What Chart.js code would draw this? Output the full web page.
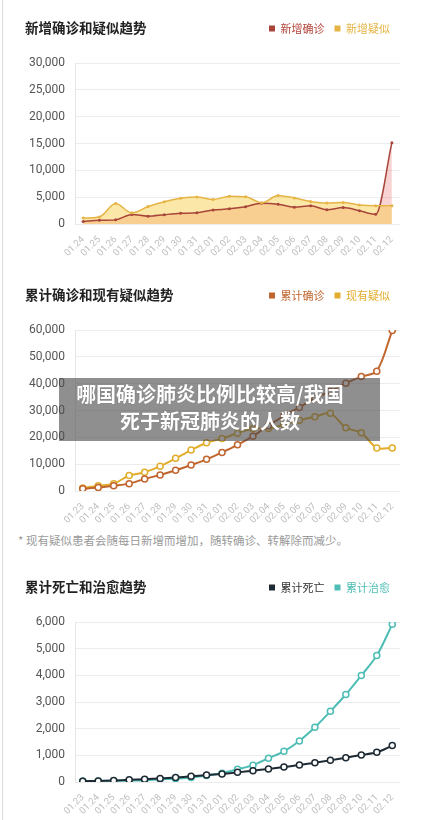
<!DOCTYPE html>
<html lang="zh-CN">
<head>
<meta charset="utf-8">
<title>疫情趋势</title>
<script src="https://cdn.jsdelivr.net/npm/chart.js@4.4.1/dist/chart.umd.min.js"></script>
<style>
  html, body { margin: 0; padding: 0; background: #fff; }
  body { width: 440px; height: 820px; position: relative; overflow: hidden; font-family: Roboto, "Noto Sans CJK SC", sans-serif; }
  .edge { position: absolute; left: 2px; top: 0; bottom: 0; width: 1px; background: #dcdcdc; }
  .block { position: absolute; left: 0; width: 440px; height: 262px; }
  .block h2 { position: absolute; left: 25px; top: 18px; margin: 0; font-size: 13.5px; line-height: 18px; font-weight: 700; color: #222; font-family: "Noto Sans CJK SC", sans-serif; }
  .note { position: absolute; left: 18px; top: 532px; font-size: 11.5px; line-height: 16px; color: #9a9a9a; font-family: "Noto Sans CJK SC", sans-serif; }
  .banner { position: absolute; left: 59px; top: 378px; width: 321px; height: 63px; box-sizing: border-box; padding: 3px 19px 0 0;
    background: rgba(75, 75, 75, 0.62); color: #fff; text-align: center; font: 700 20px/26.5px "Noto Sans CJK SC", sans-serif;
    text-shadow: 0 0 1px rgba(0, 0, 0, 0.3); }
</style>
</head>
<body>
<div class="edge"></div>

<div class="block" style="top:0">
  <h2>新增确诊和疑似趋势</h2>
  <canvas id="newChart"></canvas>
</div>

<div class="block" style="top:267px">
  <h2>累计确诊和现有疑似趋势</h2>
  <canvas id="totalChart"></canvas>
</div>

<div class="note">* 现有疑似患者会随每日新增而增加，随转确诊、转解除而减少。</div>

<div class="block" style="top:559px; height:261px">
  <h2>累计死亡和治愈趋势</h2>
  <canvas id="outcomeChart"></canvas>
</div>

<div class="banner">哪国确诊肺炎比例比较高/我国<br>死于新冠肺炎的人数</div>

<script>
const newDays = ['01.24', '01.25', '01.26', '01.27', '01.28', '01.29', '01.30', '01.31', '02.01', '02.02',
  '02.03', '02.04', '02.05', '02.06', '02.07', '02.08', '02.09', '02.10', '02.11', '02.12']
const newConfirmed = [444, 688, 769, 1771, 1459, 1737, 1982, 2102, 2590, 2829,
  3235, 3887, 3694, 3143, 3399, 2656, 3062, 2478, 1800, 15152]
const newSuspected = [1118, 1309, 3806, 2077, 3248, 4148, 4812, 5019, 4562, 5173,
  5072, 3971, 5328, 4833, 4214, 3916, 4008, 3536, 3400, 3400]

const totalDays = ['01.23', '01.24', '01.25', '01.26', '01.27', '01.28', '01.29', '01.30', '01.31', '02.01',
  '02.02', '02.03', '02.04', '02.05', '02.06', '02.07', '02.08', '02.09', '02.10', '02.11', '02.12']
const totalConfirmed = [830, 1287, 1975, 2744, 4515, 5974, 7711, 9692, 11791, 14380,
  17205, 20438, 24324, 28018, 31161, 34546, 37198, 40171, 42638, 44653, 59804]
const currentSuspected = [1072, 1965, 2684, 5794, 6973, 9239, 12167, 15238, 17988, 19544,
  21558, 23214, 23260, 24702, 26359, 27657, 28942, 23589, 21675, 16067, 16067]
const totalDeaths = [25, 41, 56, 80, 106, 132, 170, 213, 259, 304,
  361, 425, 490, 563, 636, 722, 811, 908, 1016, 1113, 1367]
const totalCured = [34, 38, 49, 51, 60, 103, 124, 171, 243, 328,
  475, 632, 892, 1153, 1540, 2050, 2649, 3281, 3996, 4740, 5911]

Chart.defaults.font.family = 'Roboto, "Noto Sans CJK SC", sans-serif'

// push the plot down a bit under the legend row
const legendGap = {
  id: 'legendGap',
  beforeInit(chart) {
    const fit = chart.legend.fit
    chart.legend.fit = function () {
      fit.bind(chart.legend)()
      this.height += 19
    }
  }
}

function lineChart(id, labels, datasets, legendText, yMax, yStep) {
  return new Chart(document.getElementById(id), {
    type: 'line',
    data: { labels, datasets },
    options: {
      responsive: true,
      maintainAspectRatio: false,
      animation: false,
      locale: 'en-US',
      layout: { padding: { top: 13, left: 20, right: 40, bottom: 0 } },
      plugins: {
        filler: { drawTime: 'beforeDatasetsDraw' },
        legend: {
          position: 'top',
          align: 'end',
          labels: {
            boxWidth: 6,
            boxHeight: 6,
            padding: 10,
            font: { size: 11, family: '"Noto Sans CJK SC", sans-serif' },
            generateLabels: (chart) => datasets.map((ds, i) => ({
              text: ds.label,
              fillStyle: ds.borderColor,
              strokeStyle: ds.borderColor,
              lineWidth: 0,
              fontColor: legendText[i],
              hidden: !chart.isDatasetVisible(i),
              datasetIndex: i
            }))
          }
        },
        tooltip: { enabled: false }
      },
      scales: {
        x: {
          offset: true,
          grid: { display: false },
          border: { display: false },
          ticks: { color: '#bdbdbd', font: { size: 9.5 }, minRotation: 45, maxRotation: 45, autoSkip: false, padding: 2 },
          afterFit: (axis) => { axis.height = 38 }
        },
        y: {
          min: 0,
          max: yMax,
          ticks: { stepSize: yStep, color: '#555', font: { size: 12 }, padding: 10 },
          grid: { color: '#ececec', drawTicks: false },
          border: { color: '#e6e6e6' },
          afterFit: (axis) => { axis.width = 55 }
        }
      }
    },
    plugins: [legendGap]
  })
}

// yellow fill sits over the pink one, so the overlap turns tan
lineChart('newChart', newDays, [
  {
    label: '新增确诊', data: newConfirmed, order: 1,
    borderColor: '#a8453a', backgroundColor: 'rgba(235, 110, 110, 0.3)', fill: 'origin',
    borderWidth: 1.5, pointRadius: 1.5, pointBackgroundColor: '#a8453a', pointBorderWidth: 0,
    cubicInterpolationMode: 'monotone'
  },
  {
    label: '新增疑似', data: newSuspected, order: 0,
    borderColor: '#e6b445', backgroundColor: 'rgba(247, 202, 62, 0.45)', fill: 'origin',
    borderWidth: 1.5, pointRadius: 1.5, pointBackgroundColor: '#e6b445', pointBorderWidth: 0,
    cubicInterpolationMode: 'monotone'
  }
], ['#b3453b', '#e6b445'], 30000, 5000)

lineChart('totalChart', totalDays, [
  {
    label: '累计确诊', data: totalConfirmed,
    borderColor: '#c0652e', backgroundColor: '#c0652e',
    borderWidth: 2, pointRadius: 3, pointBackgroundColor: '#fff', pointBorderWidth: 1.5, tension: 0.3
  },
  {
    label: '现有疑似', data: currentSuspected,
    borderColor: '#e2ad2c', backgroundColor: '#e2ad2c',
    borderWidth: 2, pointRadius: 3, pointBackgroundColor: '#fff', pointBorderWidth: 1.5, tension: 0.3
  }
], ['#c0652e', '#e2ad2c'], 60000, 10000)

lineChart('outcomeChart', totalDays, [
  {
    label: '累计死亡', data: totalDeaths,
    borderColor: '#1d2a33', backgroundColor: '#1d2a33',
    borderWidth: 2, pointRadius: 3, pointBackgroundColor: '#fff', pointBorderWidth: 1.5, tension: 0.3
  },
  {
    label: '累计治愈', data: totalCured,
    borderColor: '#4dbdb5', backgroundColor: '#4dbdb5',
    borderWidth: 2, pointRadius: 3, pointBackgroundColor: '#fff', pointBorderWidth: 1.5, tension: 0.3
  }
], ['#333', '#4dbdb5'], 6000, 1000)
</script>
</body>
</html>
